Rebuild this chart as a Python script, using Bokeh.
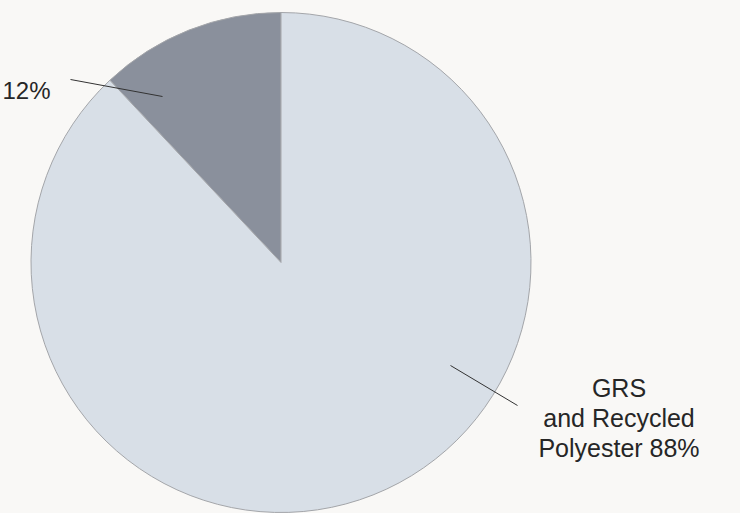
import math
from bokeh.plotting import figure
from bokeh.models import Range1d, ColumnDataSource
from bokeh.core.properties import value
from bokeh.embed import file_html
from bokeh.resources import INLINE

# ---- data ----
categories = ["Other", "GRS\nand Recycled\nPolyester"]
shares = [12, 88]
label_texts = ["12%", "GRS\nand Recycled\nPolyester 88%"]
colors = ["#8a909c", "#d8dfe7"]

# ---- layout (pixel-like data space) ----
W, H = 740, 513
cx, cy, R = 280.5, 251.0, 250.0

p = figure(width=W, height=H, output_backend="svg", toolbar_location=None,
           x_range=Range1d(0, W), y_range=Range1d(0, H), min_border=0)
p.axis.visible = False
p.grid.visible = False
p.outline_line_color = None
p.background_fill_color = "#f9f8f6"
p.border_fill_color = "#f9f8f6"

total = sum(shares)
starts, ends = [], []
a = math.pi / 2
for v in shares:
    starts.append(a)
    a += v / total * 2 * math.pi
    ends.append(a)

src = ColumnDataSource(dict(x=[cx] * len(shares), y=[cy] * len(shares),
                            start=starts, end=ends, color=colors, cat=categories))
p.wedge(x="x", y="y", radius=R, start_angle="start", end_angle="end",
        direction="anticlock", fill_color="color", line_color="#a3a5a9",
        line_width=1, source=src)

# leader lines (layout anchors)
leaders = [((70, 434), (162, 417)), ((450, 148), (517, 108))]
for (x0, y0), (x1, y1) in leaders:
    p.line([x0, x1], [y0, y1], line_color="#333333", line_width=1)

font = value("Liberation Sans")
# 12% label
p.text(x=[2], y=[423], text=[label_texts[0]], text_font=font,
       text_font_size="24px", text_color="#262626", text_align="left",
       text_baseline="alphabetic")
# 88% label, centered lines
lines = label_texts[1].split("\n")
lx, ly0, lh = 618.5, 126, 30
p.text(x=[lx] * len(lines), y=[ly0 - i * lh for i in range(len(lines))],
       text=lines, text_font=font, text_font_size="25px", text_color="#262626",
       text_align="center", text_baseline="alphabetic")

html = file_html(p, INLINE)
html = html.replace("<head>", "<head><style>html,body{overflow:hidden;background:#f9f8f6;}</style>", 1)
open("out.html", "w").write(html)
